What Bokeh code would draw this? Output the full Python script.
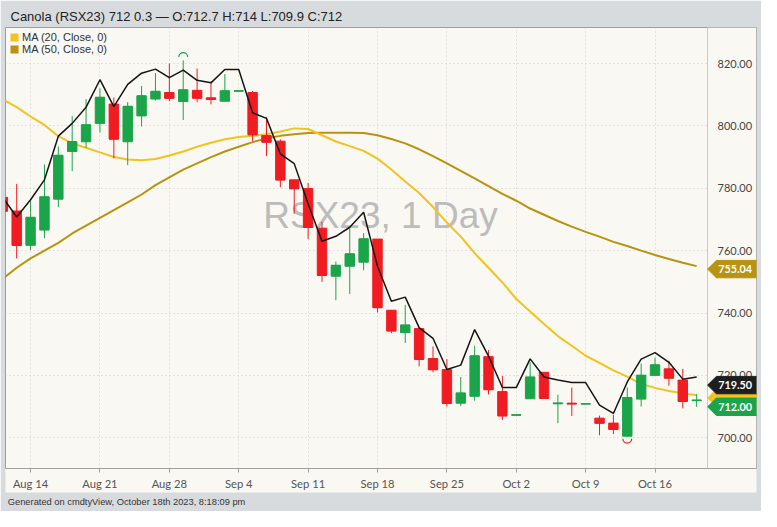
import numpy as np
from bokeh.plotting import figure
from bokeh.models import (FixedTicker, PrintfTickFormatter, Label, Legend, LegendItem,
                          PolyAnnotation, BoxAnnotation, Range1d, Title)
from bokeh.core.properties import value
from bokeh.embed import file_html
from bokeh.resources import INLINE

# ---------------- data (session index: 0 = Mon Aug 14 2023) ----------------
sessions = list(range(-2, 49))
opens = [777.1, 772.7, 761.7, 766.6, 776.5, 791.8, 794.9, 800.8, 807.0, 794.9,
         803.2, 808.6, 810.7, 807.8, 811.4, 809.0, 807.9, 811.2, 810.7, 796.9,
         795.1, 782.7, 779.9, 767.2, 751.8, 755.0, 756.3, 763.7, 740.9, 733.7,
         735.0, 725.4, 721.9, 711.1, 713.3, 726.0, 714.8, 707.3, 712.5, 721.0,
         710.9, 711.1, 710.9, 706.3, 704.7, 700.5, 712.4, 720.0, 722.1, 718.5,
         711.9]
highs = [777.5, 781.4, 776.0, 787.6, 793.4, 803.1, 808.6, 812.0, 809.1, 807.6,
         812.8, 816.9, 820.0, 821.0, 818.4, 814.3, 816.6, 811.2, 811.2, 802.9,
         795.7, 782.7, 781.7, 769.2, 756.5, 767.2, 765.6, 763.7, 740.9, 742.6,
         735.2, 729.3, 725.2, 719.5, 729.5, 728.1, 719.8, 707.3, 724.2, 721.0,
         713.8, 716.1, 710.9, 707.1, 707.4, 716.1, 723.8, 725.7, 724.7, 722.1,
         714.0]
lows = [772.4, 757.5, 760.2, 764.0, 773.9, 785.5, 793.0, 797.9, 789.6, 787.4,
        799.8, 808.1, 807.9, 801.9, 807.6, 806.9, 807.9, 811.2, 795.1, 790.3,
        780.3, 771.8, 763.7, 750.0, 744.1, 746.1, 753.7, 740.2, 733.5, 730.4,
        722.9, 721.0, 710.0, 710.2, 711.9, 713.9, 705.7, 707.3, 712.5, 712.7,
        704.7, 707.0, 710.9, 700.8, 701.2, 700.5, 710.0, 720.0, 716.7, 709.4,
        709.9]
closes = [772.7, 761.7, 770.6, 777.2, 790.5, 794.9, 800.3, 809.1, 795.8, 806.2,
          809.6, 811.0, 808.9, 811.5, 808.9, 808.5, 811.2, 811.2, 797.2, 794.8,
          782.7, 779.9, 767.5, 752.1, 755.2, 758.9, 763.7, 741.8, 734.3, 736.1,
          725.2, 721.9, 711.1, 714.3, 726.2, 715.5, 707.1, 707.3, 719.4, 712.7,
          711.1, 710.9, 710.9, 704.7, 702.7, 712.8, 720.0, 723.3, 719.2, 711.7,
          712.0]
compare_close = [777.0, 770.8, 776.3, 782.7, 796.7, 800.8, 806.0, 814.8, 806.2, 813.3,
                 816.9, 818.2, 815.5, 817.9, 814.6, 813.8, 818.1, 818.1, 804.2, 802.4,
                 791.0, 787.9, 775.0, 763.0, 764.6, 767.5, 772.3, 755.0, 743.8, 745.1,
                 735.3, 731.9, 721.9, 723.3, 734.7, 726.2, 716.1, 716.1, 725.3, 719.5,
                 718.5, 717.7, 717.7, 710.5, 707.8, 717.9, 725.2, 727.3, 724.2, 718.8,
                 719.5]
ma20 = [808.5, 806.0, 803.0, 800.3, 796.7, 794.4, 793.0, 791.5, 790.0, 789.2,
        789.0, 789.4, 790.5, 791.8, 793.3, 794.6, 795.7, 796.4, 796.8, 797.3,
        798.2, 799.2, 799.0, 797.0, 795.0, 793.5, 792.0, 789.5, 786.0, 782.2,
        778.5, 774.0, 769.0, 764.5, 759.2, 754.5, 749.8, 744.5, 740.5, 736.5,
        732.6, 729.5, 726.3, 724.0, 721.6, 719.6, 717.3, 716.0, 715.0, 714.3,
        713.6]
ma50 = [751.0, 754.5, 757.5, 760.0, 762.5, 765.5, 768.0, 770.5, 773.0, 775.5,
        778.0, 781.0, 783.5, 786.0, 788.0, 790.0, 791.8, 793.3, 794.8, 796.0,
        796.8, 797.3, 797.7, 797.8, 797.8, 797.8, 797.7, 797.0, 795.8, 794.4,
        792.5, 790.3, 788.0, 785.6, 783.2, 780.7, 778.2, 776.0, 773.5, 771.5,
        769.5, 767.7, 766.0, 764.5, 762.8, 761.5, 760.0, 758.6, 757.3, 756.1,
        755.04]
tick_sessions = [0, 5, 10, 15, 20, 25, 30, 35, 40, 45]
tick_labels = ["Aug 14", "Aug 21", "Aug 28", "Sep 4", "Sep 11", "Sep 18",
               "Sep 25", "Oct 2", "Oct 9", "Oct 16"]
price_ticks = [700, 720, 740, 760, 780, 800, 820]
title_text = "Canola (RSX23) 712 0.3 \u2014 O:712.7 H:714 L:709.9 C:712"
footer_text = "Generated on cmdtyView, October 18th 2023, 8:18:09 pm"
watermark_text = "RSX23, 1 Day"
ma20_name = "MA (20, Close, 0)"
ma50_name = "MA (50, Close, 0)"

# ---------------- style ----------------
GRAY = "#d8dbde"
CREAM = "#faf8f2"
GREEN = "#1ba54b"
RED = "#f01c22"
MA20_C = "#f2c31f"
MA50_C = "#b8930f"
BLACK = "#151515"
FONT = "Liberation Sans"

W, H = 761, 511
FL, FR, FT, FB = 5, 756, 27, 468     # frame box (figure px)
PRICE_EDGE = 707.1                   # x (figure px) where the price scale starts
PXX = 13.877                         # px per session
X0PX = 30.07                         # px position of session 0
PXY = 3.119                          # px per price unit
Y820PX = 63.0                        # px position of price 820
XMIN = (FL - X0PX) / PXX
XMAX = XMIN + (FR - FL) / PXX
YMAX = 820 + (Y820PX - FT) / PXY
YMIN = YMAX - (FB - FT) / PXY


def dx(px):
    return XMIN + (px - FL) / PXX


def dy(py):
    return YMAX - (py - FT) / PXY


p = figure(width=W, height=H, output_backend="svg", toolbar_location=None,
           x_range=Range1d(XMIN, XMAX), y_range=Range1d(YMIN, YMAX),
           y_axis_location="right",
           min_border_left=FL, min_border_right=W - FR, min_border_top=FT,
           min_border_bottom=H - FB)
p.background_fill_color = CREAM
p.border_fill_color = GRAY
p.outline_line_color = "#9e9e9e"

# title (above) and footer (below)
p.title.text = title_text
p.title.align = "left"
p.title.offset = 5
p.title.standoff = 8
p.title.text_font = FONT
p.title.text_font_size = "13px"
p.title.text_font_style = "normal"
p.title.text_color = "#222222"
p.add_layout(Title(text=footer_text, align="left", offset=2.3, standoff=5,
                   text_font=FONT, text_font_size="9.3px", text_font_style="normal",
                   text_color="#333333"), "below")

# axes
p.xaxis.ticker = FixedTicker(ticks=tick_sessions)
p.xaxis.major_label_overrides = {s: t for s, t in zip(tick_sessions, tick_labels)}
p.xaxis.major_tick_out = 4
p.xaxis.major_tick_in = 0
p.xaxis.minor_tick_out = 0
p.xaxis.minor_tick_in = 0
p.xaxis.major_tick_line_color = "#a0a0a0"
p.xaxis.axis_line_color = "#a0a0a0"
p.xaxis.major_label_standoff = 4
p.xaxis.major_label_text_font = "Lato"
p.xaxis.major_label_text_font_size = "11.2px"
p.xaxis.major_label_text_color = "#555555"
for ax in p.xaxis:
    if "background_fill_color" in ax.properties():
        ax.background_fill_color = CREAM

p.yaxis.fixed_location = dx(PRICE_EDGE)
p.yaxis.ticker = FixedTicker(ticks=price_ticks)
p.yaxis.formatter = PrintfTickFormatter(format="%.2f")
p.yaxis.major_tick_out = 0
p.yaxis.major_tick_in = 0
p.yaxis.minor_tick_out = 0
p.yaxis.minor_tick_in = 0
p.yaxis.axis_line_color = "#c9c9c9"
p.yaxis.major_label_standoff = 10
p.yaxis.major_label_text_font = "Lato"
p.yaxis.major_label_text_font_size = "11px"
p.yaxis.major_label_text_color = "#444444"

p.xgrid.ticker = FixedTicker(ticks=tick_sessions)
p.ygrid.ticker = FixedTicker(ticks=price_ticks)
p.grid.grid_line_color = "#cdcdcd"
p.grid.grid_line_dash = "1 3"
p.grid.grid_line_width = 1

# price-scale area: plain background over the grid
p.add_layout(BoxAnnotation(left=dx(PRICE_EDGE), fill_color=CREAM, fill_alpha=1,
                           line_color=None, level="glyph"))

# watermark (behind everything)
p.text(x=[dx(380)], y=[dy(215.3)], text=[watermark_text], text_font=value(FONT),
       text_font_size="37px", text_color="#bcbcbc", text_align="center",
       text_baseline="middle")

# moving averages
p.line(sessions, ma50, line_color=MA50_C, line_width=2)
p.line(sessions, ma20, line_color=MA20_C, line_width=2)

# candles
colors = [GREEN if c >= o else RED for o, c in zip(opens, closes)]
tops = [max(o, c) for o, c in zip(opens, closes)]
bottoms = [min(o, c) for o, c in zip(opens, closes)]
BW = 0.68
p.segment(x0=sessions, y0=lows, x1=sessions, y1=highs, line_color=colors, line_width=1)
p.vbar(x=sessions, width=BW, top=tops, bottom=bottoms, fill_color=colors,
       line_color=colors, line_width=1)
p.segment(x0=[s - BW / 2 for s in sessions], y0=closes,
          x1=[s + BW / 2 for s in sessions], y1=closes, line_color=colors, line_width=1.5)

# comparison close line
p.line(sessions, compare_close, line_color=BLACK, line_width=1.5)

# highest-high / lowest-low markers
i_hi = int(np.argmax(highs))
i_lo = int(np.argmin(lows))
p.arc(x=[sessions[i_hi]], y=[highs[i_hi] + 1.1], radius=4.4, radius_units="screen",
      start_angle=0, end_angle=np.pi, line_color=GREEN, line_width=1.2)
p.arc(x=[sessions[i_lo]], y=[lows[i_lo] - 0.8], radius=4.4, radius_units="screen",
      start_angle=np.pi, end_angle=2 * np.pi, line_color=RED, line_width=1.2)

# legend with square swatches (hidden renderers provide the swatches)
r20 = p.vbar(x=sessions, width=0.5, top=ma20, bottom=ma20, fill_color=MA20_C,
             line_color=None, visible=False)
r50 = p.vbar(x=sessions, width=0.5, top=ma50, bottom=ma50, fill_color=MA50_C,
             line_color=None, visible=False)
legend = Legend(items=[LegendItem(label=ma20_name, renderers=[r20]),
                       LegendItem(label=ma50_name, renderers=[r50])],
                location="top_left", margin=4, padding=5, spacing=-1,
                glyph_width=10, glyph_height=10, label_height=12, label_standoff=3,
                background_fill_alpha=0, border_line_color=None,
                label_text_font=FONT, label_text_font_size="11px",
                label_text_color="#333333")
p.add_layout(legend)


# price tags on the price scale
def tag(cy, fill, txt, txt_color="white"):
    hh = 8.7
    xs = [dx(PRICE_EDGE), dx(PRICE_EDGE + 8.8), dx(W + 2), dx(W + 2), dx(PRICE_EDGE + 8.8)]
    ys = [dy(cy), dy(cy - hh), dy(cy - hh), dy(cy + hh), dy(cy + hh)]
    p.add_layout(PolyAnnotation(xs=xs, ys=ys, fill_color=fill, fill_alpha=1,
                                line_color=fill, line_alpha=1))
    if txt:
        p.add_layout(Label(x=dx(734.6), y=dy(cy), text=txt, text_font="Lato",
                           text_font_style="bold", text_font_size="10.8px",
                           text_color=txt_color, text_align="center",
                           text_baseline="middle"))


tag(268.6, MA50_C, "%.2f" % ma50[-1])
tag(397.5, MA20_C, "")
tag(384.6, "#1e1e1e", "%.2f" % compare_close[-1])
tag(406.3, GREEN, "%.2f" % closes[-1])

open("out.html", "w").write(file_html(p, INLINE))
